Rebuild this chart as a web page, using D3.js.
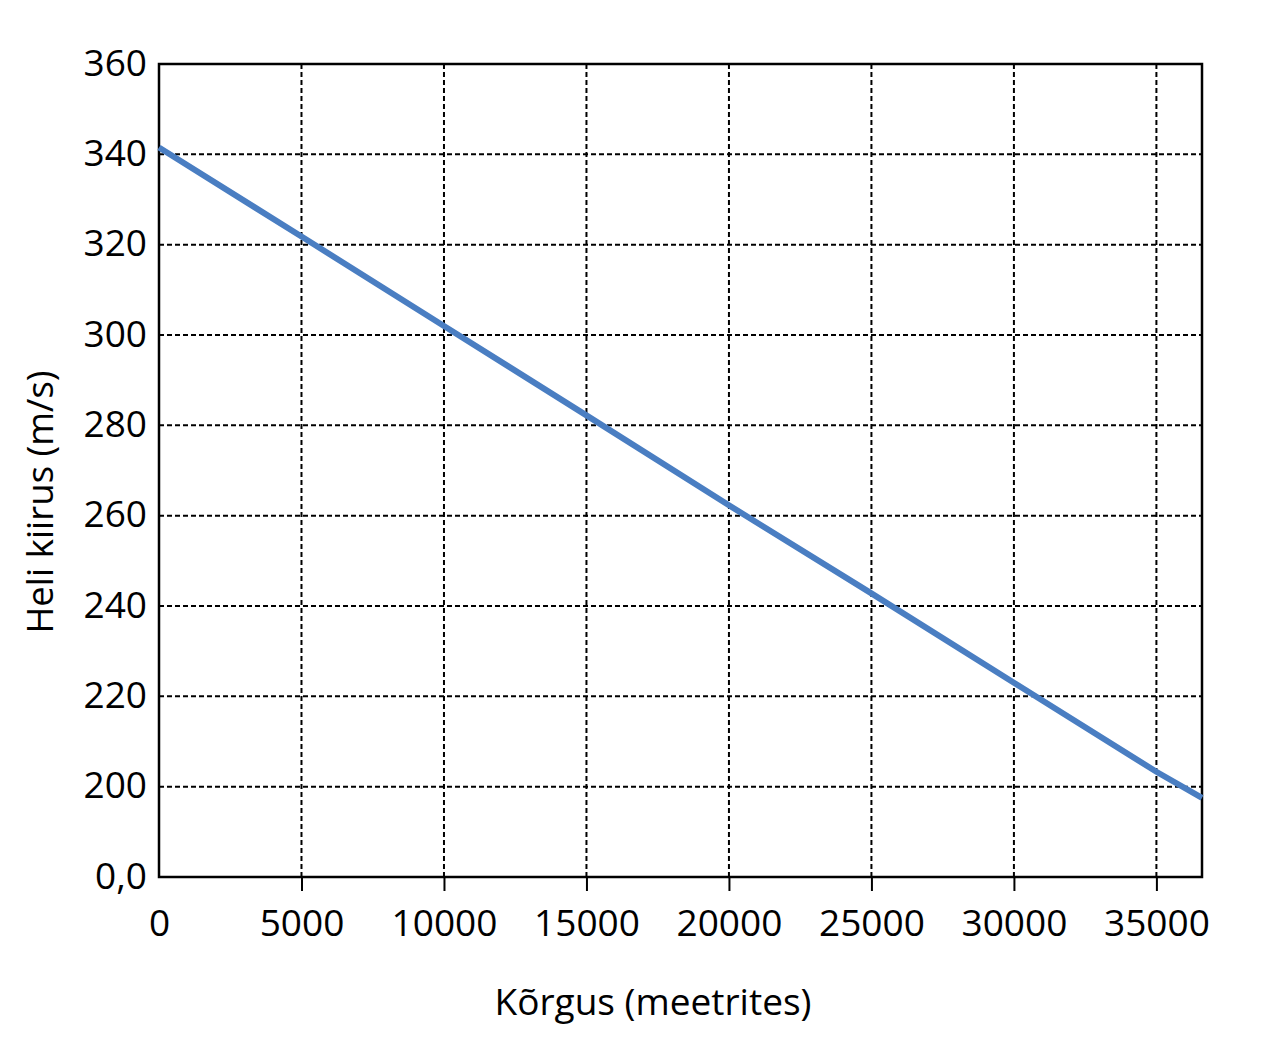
<!DOCTYPE html>
<html>
<head>
<meta charset="utf-8">
<script src="https://cdn.jsdelivr.net/npm/d3@7"></script>
<style>
  html, body { margin: 0; padding: 0; background: #fff; }
  svg { display: block; }
  text { font-family: "Open Sans", "Noto Sans", sans-serif; fill: #000; }
</style>
</head>
<body>
<svg id="chart" width="1280" height="1054"></svg>
<script>
// ---- data ----
const altitudes = [0, 5000, 10000, 15000, 20000, 25000, 30000, 35000, 36600];
const speeds    = [341.5, 321.8, 302.0, 282.2, 262.3, 242.8, 223.0, 203.3, 197.5];

const xTicks = [0, 5000, 10000, 15000, 20000, 25000, 30000, 35000];
const xTickLabels = ["0", "5000", "10000", "15000", "20000", "25000", "30000", "35000"];
const yTicks = [180, 200, 220, 240, 260, 280, 300, 320, 340, 360];
const yTickLabels = ["0,0", "200", "220", "240", "260", "280", "300", "320", "340", "360"];

const xTitle = "Kõrgus (meetrites)";
const yTitle = "Heli kiirus (m/s)";

// ---- layout ----
const mLeft = 159, mRight = 1202, mTop = 64, mBottom = 877;
const svg = d3.select("#chart");

const x = d3.scaleLinear().domain([0, 36600]).range([mLeft, mRight]);
const y = d3.scaleLinear().domain([180, 360]).range([mBottom, mTop]);

// grid
const grid = svg.append("g");
grid.selectAll("line.h").data(yTicks.filter(v => v > 180 && v < 360)).join("line")
  .attr("x1", mLeft).attr("x2", mRight)
  .attr("y1", d => y(d)).attr("y2", d => y(d))
  .attr("stroke", "#000").attr("stroke-width", 2).attr("stroke-dasharray", "5,3");
grid.selectAll("line.v").data(xTicks.filter(v => v > 0)).join("line")
  .attr("y1", mTop).attr("y2", mBottom)
  .attr("x1", d => x(d)).attr("x2", d => x(d))
  .attr("stroke", "#000").attr("stroke-width", 2).attr("stroke-dasharray", "5,3");

// x axis ticks + labels
const xAxis = d3.axisBottom(x).tickValues(xTicks)
  .tickFormat((d, i) => xTickLabels[i]).tickSize(14);
const gx = svg.append("g").attr("transform", `translate(0,${mBottom})`).call(xAxis);
gx.select(".domain").remove();
gx.selectAll(".tick line").attr("stroke", "#000").attr("stroke-width", 2)
  .filter(d => d === 0).remove();
gx.selectAll(".tick text").attr("font-size", 37).attr("y", 59).attr("dy", 0)
  .attr("font-family", "'Open Sans', sans-serif");

// y axis labels
const yAxis = d3.axisLeft(y).tickValues(yTicks)
  .tickFormat((d, i) => yTickLabels[i]).tickSize(0).tickPadding(12);
const gy = svg.append("g").attr("transform", `translate(${mLeft},0)`).call(yAxis);
gy.select(".domain").remove();
gy.selectAll(".tick text").attr("font-size", 37).attr("dy", "0.3em")
  .attr("font-family", "'Open Sans', sans-serif");

// frame
svg.append("rect").attr("x", mLeft).attr("y", mTop)
  .attr("width", mRight - mLeft).attr("height", mBottom - mTop)
  .attr("fill", "none").attr("stroke", "#000").attr("stroke-width", 2.5);

// line
const pts = altitudes.map((a, i) => [a, speeds[i]]);
svg.append("path").datum(pts)
  .attr("fill", "none").attr("stroke", "#4a7ec2").attr("stroke-width", 6)
  .attr("d", d3.line().x(d => x(d[0])).y(d => y(d[1])));

// titles
svg.append("text").attr("x", 653).attr("y", 1015)
  .attr("text-anchor", "middle").attr("font-size", 37).text(xTitle);
svg.append("text").attr("transform", "translate(53,502) rotate(-90)")
  .attr("text-anchor", "middle").attr("font-size", 36.5).text(yTitle);
</script>
</body>
</html>
